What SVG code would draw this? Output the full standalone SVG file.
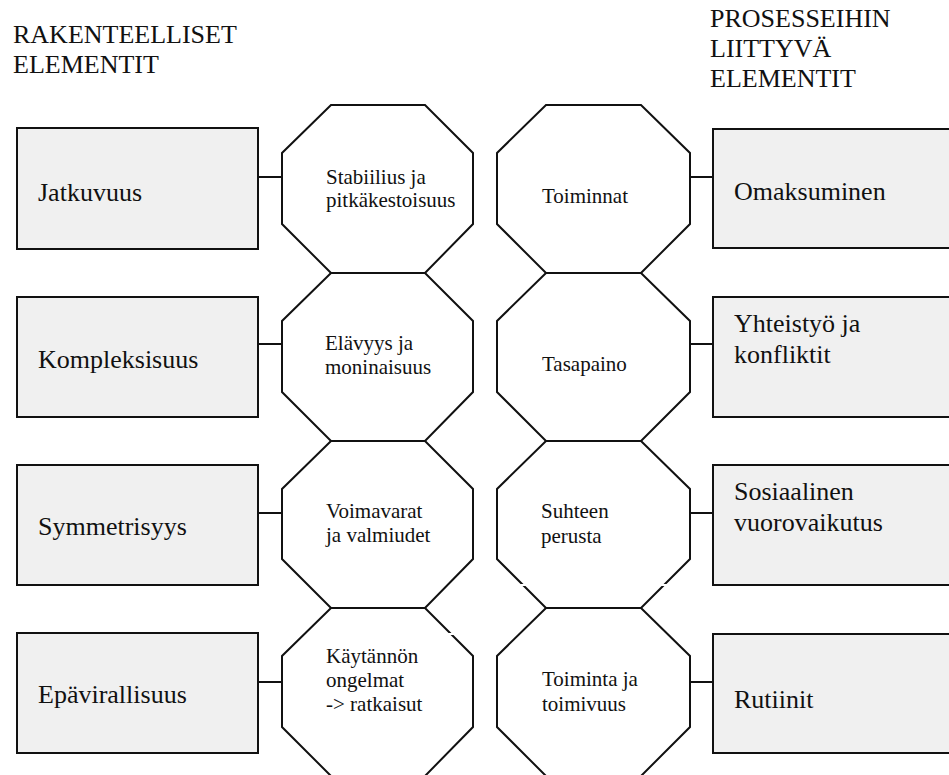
<svg xmlns="http://www.w3.org/2000/svg" width="949" height="775" viewBox="0 0 949 775">
  <style>
    .title { font-size: 26px; fill: #111; }
    .box rect { fill: #f0f0f0; stroke: #111; stroke-width: 2; }
    .box text { font-size: 26px; fill: #111; }
    .oct polygon { fill: #fff; stroke: #111; stroke-width: 2; stroke-linejoin: miter; }
    .oct text { font-size: 21px; fill: #111; }
    .link { stroke: #111; stroke-width: 2; fill: none; }
  </style>

  <rect width="949" height="775" fill="#fff"/>

  <g font-family="Liberation Serif, Tinos, DejaVu Serif, serif">
  <!-- column headings -->
  <text class="title" x="13" y="43">RAKENTEELLISET</text>
  <text class="title" x="13" y="73">ELEMENTIT</text>
  <text class="title" x="710" y="27">PROSESSEIHIN</text>
  <text class="title" x="710" y="57">LIITTYVÄ</text>
  <text class="title" x="710" y="87">ELEMENTIT</text>

  <!-- connectors -->
  <g id="connectors">
    <line class="link" x1="258" y1="177" x2="282" y2="177"/>
    <line class="link" x1="258" y1="344" x2="282" y2="344"/>
    <line class="link" x1="258" y1="513" x2="282" y2="513"/>
    <line class="link" x1="258" y1="682" x2="282" y2="682"/>
    <line class="link" x1="690" y1="177" x2="713" y2="177"/>
    <line class="link" x1="690" y1="344" x2="713" y2="344"/>
    <line class="link" x1="690" y1="513" x2="713" y2="513"/>
    <line class="link" x1="690" y1="682" x2="713" y2="682"/>
  </g>

  <!-- structural elements (left) -->
  <g id="box-jatkuvuus" class="box">
    <rect x="17" y="128" width="241" height="121"/>
    <text x="38" y="201">Jatkuvuus</text>
  </g>
  <g id="box-kompleksisuus" class="box">
    <rect x="17" y="297" width="241" height="120"/>
    <text x="38" y="368">Kompleksisuus</text>
  </g>
  <g id="box-symmetrisyys" class="box">
    <rect x="17" y="465" width="241" height="120"/>
    <text x="38" y="535">Symmetrisyys</text>
  </g>
  <g id="box-epavirallisuus" class="box">
    <rect x="17" y="633" width="241" height="120"/>
    <text x="38" y="703">Epävirallisuus</text>
  </g>

  <!-- left octagons -->
  <g id="oct-stabiilius" class="oct">
    <polygon points="331,105 425,105 473,153 473,224 425,273 331,273 282,224 282,153"/>
    <text x="326" y="184">Stabiilius ja</text>
    <text x="326" y="207">pitkäkestoisuus</text>
  </g>
  <g id="oct-elavyys" class="oct">
    <polygon points="331,273 425,273 473,321 473,392 425,441 331,441 282,392 282,321"/>
    <text x="325" y="350">Elävyys ja</text>
    <text x="325" y="374">moninaisuus</text>
  </g>
  <g id="oct-voimavarat" class="oct">
    <polygon points="331,441 425,441 473,489 473,559 425,608 331,608 282,559 282,489"/>
    <text x="326" y="518">Voimavarat</text>
    <text x="326" y="542">ja valmiudet</text>
  </g>
  <g id="oct-kaytannon" class="oct">
    <polygon points="331,608 425,608 473,656 473,727 425,776 331,776 282,727 282,656"/>
    <text x="326" y="663">Käytännön</text>
    <text x="326" y="687">ongelmat</text>
    <text x="326" y="711">-&gt; ratkaisut</text>
  </g>

  <!-- right octagons -->
  <g id="oct-toiminnat" class="oct">
    <polygon points="546,105 641,105 690,153 690,224 641,273 546,273 497,224 497,153"/>
    <text x="542" y="203">Toiminnat</text>
  </g>
  <g id="oct-tasapaino" class="oct">
    <polygon points="546,273 641,273 690,321 690,392 641,441 546,441 497,392 497,321"/>
    <text x="542" y="371">Tasapaino</text>
  </g>
  <g id="oct-suhteen" class="oct">
    <polygon points="546,441 641,441 690,489 690,559 641,608 546,608 497,559 497,489"/>
    <text x="541" y="518">Suhteen</text>
    <text x="541" y="543">perusta</text>
  </g>
  <g id="oct-toiminta" class="oct">
    <polygon points="546,608 641,608 690,656 690,727 641,776 546,776 497,727 497,656"/>
    <text x="542" y="686">Toiminta ja</text>
    <text x="542" y="711">toimivuus</text>
  </g>

  <!-- small breaks in the outlines -->
  <rect x="518" y="584" width="8" height="2" fill="#fff"/>
  <rect x="661" y="584" width="8" height="2" fill="#fff"/>
  <rect x="447" y="633" width="8" height="2" fill="#fff"/>

  <!-- process elements (right) -->
  <g id="box-omaksuminen" class="box">
    <rect x="713" y="129" width="241" height="119"/>
    <text x="734" y="200">Omaksuminen</text>
  </g>
  <g id="box-yhteistyo" class="box">
    <rect x="713" y="297" width="241" height="120"/>
    <text x="734" y="332">Yhteistyö ja</text>
    <text x="734" y="363">konfliktit</text>
  </g>
  <g id="box-sosiaalinen" class="box">
    <rect x="713" y="465" width="241" height="120"/>
    <text x="734" y="500">Sosiaalinen</text>
    <text x="734" y="531">vuorovaikutus</text>
  </g>
  <g id="box-rutiinit" class="box">
    <rect x="713" y="634" width="241" height="119"/>
    <text x="734" y="708">Rutiinit</text>
  </g>
  </g>
</svg>
